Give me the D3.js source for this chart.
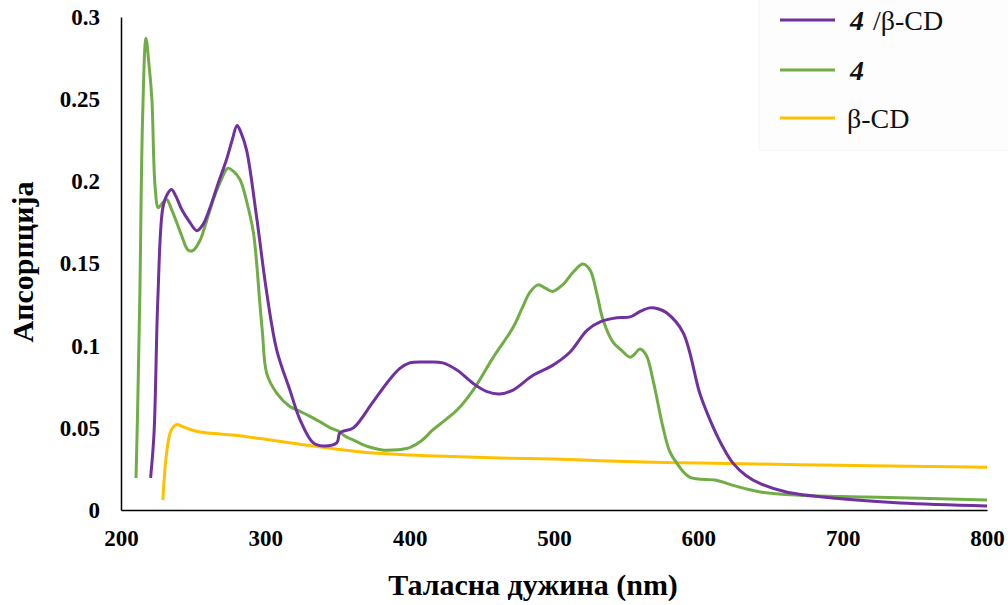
<!DOCTYPE html>
<html><head><meta charset="utf-8">
<script src="https://cdn.jsdelivr.net/npm/d3@7"></script>
<style>
body{margin:0;background:#fff;}
svg{display:block;}
</style></head>
<body>
<svg id="chart" width="1008" height="605"></svg>
<script>
// ---- data ----
const xTicks = [200, 300, 400, 500, 600, 700, 800];
const yTicks = [0, 0.05, 0.1, 0.15, 0.2, 0.25, 0.3];
const yTickLabels = ["0", "0.05", "0.1", "0.15", "0.2", "0.25", "0.3"];
const seriesNames = ["4 /β-CD", "4", "β-CD"];

const complexNm = [220.5,222.9,225.5,229,232,235,238,242,247,252.5,257,261.7,267,273,277,280.4,283,287,294,301,308,317,324,333,340,349.6,351.7,361,374,384,393,400,412,423,433,444,453.6,462.6,471.6,485.5,499,511,523,532,543.6,552.7,560,566.5,572,578,589.4,601,608,616,624,633,643,661,693,740,800];
const complexAbs = [0.0195,0.047,0.128,0.184,0.192,0.195,0.191,0.183,0.176,0.170,0.174,0.184,0.198,0.213,0.225,0.234,0.230,0.219,0.178,0.132,0.097,0.073,0.055,0.041,0.039,0.041,0.047,0.050,0.065,0.077,0.086,0.0895,0.090,0.0895,0.085,0.077,0.072,0.0706,0.073,0.082,0.088,0.096,0.1095,0.1145,0.117,0.1175,0.121,0.123,0.1225,0.12,0.108,0.071,0.055,0.040,0.0285,0.021,0.016,0.011,0.0073,0.0043,0.0025];

const dyeNm = [210.4,211.5,213,215,217.3,219.5,221.4,223.6,225.8,228,231.6,235,238.6,242,246.6,250,254.7,259,264,269,274,278,282.5,287,291.7,294,296,298,301,308,317,324,331,338,345,351.7,355,361,367,374.6,381,388.5,395,400,408,416,425,433,444,458,471.6,478,483.5,489,494,499,506,513.5,520,525,529.6,534,541,547,552.7,556,559.6,564,568.6,575.6,580,585,594,613,624,643,670,717,800];
const dyeAbs = [0.0195,0.06,0.128,0.24,0.287,0.27,0.25,0.197,0.184,0.186,0.189,0.183,0.175,0.167,0.158,0.158,0.164,0.175,0.189,0.200,0.208,0.206,0.201,0.188,0.169,0.150,0.128,0.108,0.083,0.071,0.063,0.060,0.057,0.0536,0.050,0.0475,0.045,0.0426,0.040,0.0377,0.0365,0.0365,0.037,0.038,0.042,0.0487,0.055,0.061,0.073,0.093,0.111,0.123,0.1327,0.137,0.135,0.133,0.137,0.145,0.1497,0.146,0.132,0.1156,0.102,0.097,0.093,0.095,0.098,0.094,0.079,0.05,0.036,0.0286,0.020,0.018,0.015,0.011,0.009,0.0079,0.0061];

const cdNm = [229,231,233,235,238.8,242,248,254.7,265,277.6,300,324,350,370,400,430,462.6,500,532,570,601,640,670,720,760,800];
const cdAbs = [0.006,0.03,0.043,0.049,0.052,0.051,0.049,0.0475,0.0465,0.0456,0.043,0.040,0.037,0.035,0.0335,0.0325,0.0316,0.031,0.030,0.029,0.0286,0.028,0.0275,0.027,0.0265,0.026];

const colors = ["#7030A0", "#70AD47", "#FFC000"];

// ---- chart ----
const svg = d3.select("#chart");
const x = d3.scaleLinear().domain([200, 800]).range([121, 987]);
const y = d3.scaleLinear().domain([0, 0.3]).range([510, 17]);

// legend backdrop
svg.append("rect").attr("x", 759).attr("y", -2).attr("width", 260).attr("height", 152)
  .attr("fill", "#fdfdfd").attr("stroke", "#f3f3f3");

const serif = "'Liberation Serif','Times New Roman',serif";

const xAxis = svg.append("g").attr("transform", "translate(0,510)")
  .call(d3.axisBottom(x).tickValues(xTicks).tickSize(0).tickPadding(20).tickFormat(d3.format("d")));
xAxis.select(".domain").attr("stroke", "#000").attr("stroke-width", 1.5);
xAxis.selectAll("text").attr("font-family", serif).attr("font-weight", "bold").attr("font-size", 23).attr("fill", "#000");

const yAxis = svg.append("g").attr("transform", "translate(121,0)")
  .call(d3.axisLeft(y).tickValues(yTicks).tickSize(0).tickPadding(21).tickFormat((d, i) => yTickLabels[i]));
yAxis.select(".domain").attr("stroke", "#000").attr("stroke-width", 1.5);
yAxis.selectAll("text").attr("font-family", serif).attr("font-weight", "bold").attr("font-size", 23).attr("fill", "#000");

const line = d3.line().x(d => x(d[0])).y(d => y(d[1])).curve(d3.curveCatmullRom.alpha(0.5));
const series = [
  d3.zip(cdNm, cdAbs),
  d3.zip(dyeNm, dyeAbs),
  d3.zip(complexNm, complexAbs)
];
const seriesColors = [colors[2], colors[1], colors[0]];
series.forEach((s, i) => {
  svg.append("path").datum(s).attr("d", line).attr("fill", "none")
    .attr("stroke", seriesColors[i]).attr("stroke-width", 3).attr("stroke-linejoin", "round");
});

// axis titles
svg.append("text").attr("x", 533).attr("y", 595).attr("text-anchor", "middle")
  .attr("font-family", serif).attr("font-weight", "bold").attr("font-size", 30)
  .text("Таласна дужина (nm)");
svg.append("text").attr("transform", "translate(33,262) rotate(-90)").attr("text-anchor", "middle")
  .attr("font-family", serif).attr("font-weight", "bold").attr("font-size", 30)
  .text("Апсорпција");

// legend
const legY = [20, 70, 118];
seriesNames.forEach((name, i) => {
  svg.append("line").attr("x1", 780).attr("x2", 835).attr("y1", legY[i]).attr("y2", legY[i])
    .attr("stroke", colors[i]).attr("stroke-width", 3);
  const t = svg.append("text").attr("x", i === 2 ? 847 : 850).attr("y", legY[i]).attr("dy", "0.35em")
    .attr("font-family", serif).attr("font-size", 28).attr("fill", "#111");
  if (name.startsWith("4")) {
    t.append("tspan").attr("font-weight", "bold").attr("font-style", "italic").text("4");
    const rest = name.slice(1);
    if (rest.length) t.append("tspan").attr("dx", 2).text(rest);
  } else {
    t.text(name);
  }
});
</script>
</body></html>
